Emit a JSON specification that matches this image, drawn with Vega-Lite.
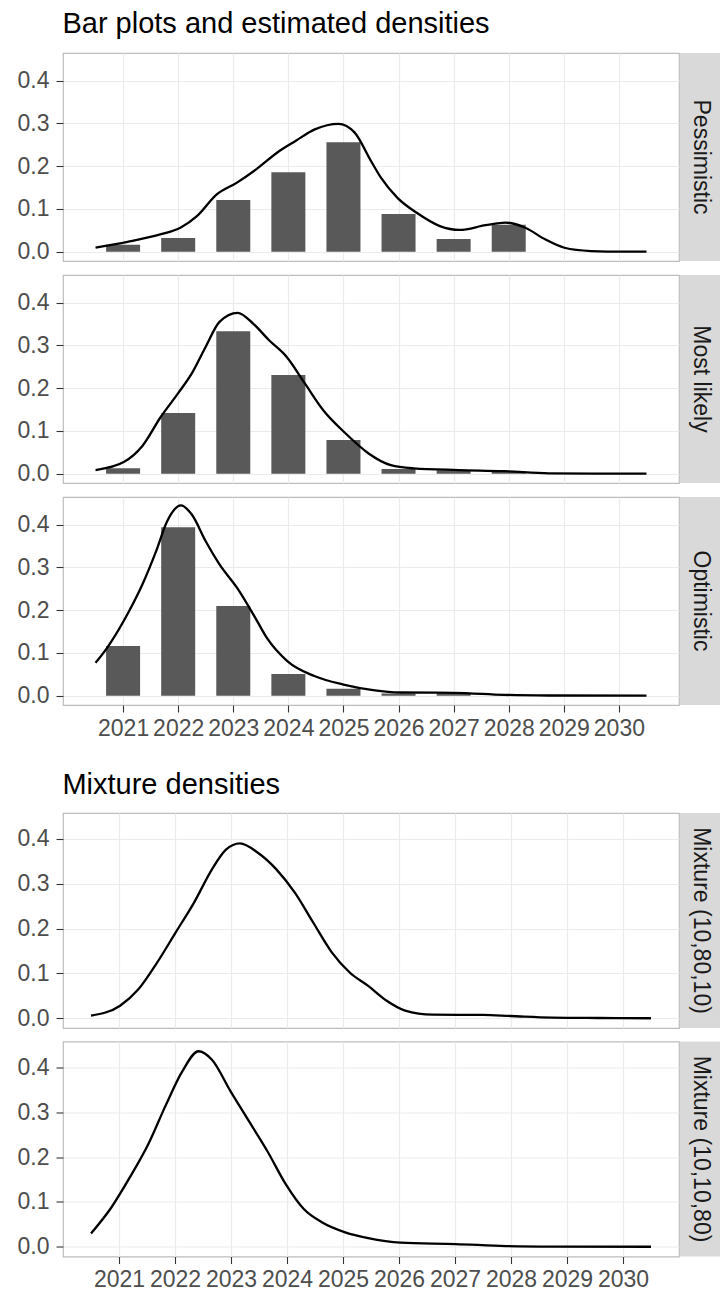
{
  "$schema": "https://vega.github.io/schema/vega-lite/v6.json",
  "background": "white",
  "padding": {"left": 16, "top": 10, "right": 0, "bottom": 2},
  "config": {
    "font": "Liberation Sans",
    "view": {"stroke": "#BDBDBD", "strokeWidth": 1.2, "fill": "white"},
    "axis": {"domain": false, "labelFont": "Liberation Sans", "labelFontSize": 23, "labelColor": "#4D4D4D", "tickColor": "#333333", "tickWidth": 1.1, "gridColor": "#EBEBEB", "labelOverlap": false, "labelFlush": false, "minExtent": 0},
    "title": {"font": "Liberation Sans", "fontSize": 29, "fontWeight": "normal", "color": "#000000", "anchor": "start", "dx": 46, "offset": 13}
  },
  "datasets": {
    "bars": [
      {"scenario": "Pessimistic", "year": 2021, "p": 0.016},
      {"scenario": "Pessimistic", "year": 2022, "p": 0.032},
      {"scenario": "Pessimistic", "year": 2023, "p": 0.121},
      {"scenario": "Pessimistic", "year": 2024, "p": 0.186},
      {"scenario": "Pessimistic", "year": 2025, "p": 0.256},
      {"scenario": "Pessimistic", "year": 2026, "p": 0.088},
      {"scenario": "Pessimistic", "year": 2027, "p": 0.030},
      {"scenario": "Pessimistic", "year": 2028, "p": 0.063},
      {"scenario": "Most likely", "year": 2021, "p": 0.013},
      {"scenario": "Most likely", "year": 2022, "p": 0.142},
      {"scenario": "Most likely", "year": 2023, "p": 0.333},
      {"scenario": "Most likely", "year": 2024, "p": 0.231},
      {"scenario": "Most likely", "year": 2025, "p": 0.079},
      {"scenario": "Most likely", "year": 2026, "p": 0.011},
      {"scenario": "Most likely", "year": 2027, "p": 0.008},
      {"scenario": "Most likely", "year": 2028, "p": 0.005},
      {"scenario": "Optimistic", "year": 2021, "p": 0.116},
      {"scenario": "Optimistic", "year": 2022, "p": 0.394},
      {"scenario": "Optimistic", "year": 2023, "p": 0.210},
      {"scenario": "Optimistic", "year": 2024, "p": 0.051},
      {"scenario": "Optimistic", "year": 2025, "p": 0.016},
      {"scenario": "Optimistic", "year": 2026, "p": 0.005},
      {"scenario": "Optimistic", "year": 2027, "p": 0.006}
    ],
    "dens": [
      {"scenario": "Pessimistic", "year": 2020.5, "d": 0.0093},
      {"scenario": "Pessimistic", "year": 2021.08, "d": 0.023},
      {"scenario": "Pessimistic", "year": 2021.69, "d": 0.041},
      {"scenario": "Pessimistic", "year": 2022.04, "d": 0.056},
      {"scenario": "Pessimistic", "year": 2022.34, "d": 0.083},
      {"scenario": "Pessimistic", "year": 2022.7, "d": 0.134},
      {"scenario": "Pessimistic", "year": 2023.06, "d": 0.161},
      {"scenario": "Pessimistic", "year": 2023.42, "d": 0.193},
      {"scenario": "Pessimistic", "year": 2023.83, "d": 0.235},
      {"scenario": "Pessimistic", "year": 2024.13, "d": 0.259},
      {"scenario": "Pessimistic", "year": 2024.48, "d": 0.286},
      {"scenario": "Pessimistic", "year": 2024.91, "d": 0.299},
      {"scenario": "Pessimistic", "year": 2025.2, "d": 0.279},
      {"scenario": "Pessimistic", "year": 2025.5, "d": 0.212},
      {"scenario": "Pessimistic", "year": 2025.68, "d": 0.173},
      {"scenario": "Pessimistic", "year": 2025.98, "d": 0.126},
      {"scenario": "Pessimistic", "year": 2026.33, "d": 0.091},
      {"scenario": "Pessimistic", "year": 2026.75, "d": 0.060},
      {"scenario": "Pessimistic", "year": 2027.11, "d": 0.051},
      {"scenario": "Pessimistic", "year": 2027.58, "d": 0.062},
      {"scenario": "Pessimistic", "year": 2027.94, "d": 0.068},
      {"scenario": "Pessimistic", "year": 2028.3, "d": 0.056},
      {"scenario": "Pessimistic", "year": 2028.66, "d": 0.029},
      {"scenario": "Pessimistic", "year": 2029.01, "d": 0.0093},
      {"scenario": "Pessimistic", "year": 2029.49, "d": 0.0016},
      {"scenario": "Pessimistic", "year": 2030.08, "d": 0.0},
      {"scenario": "Pessimistic", "year": 2030.5, "d": 0.0},
      {"scenario": "Most likely", "year": 2020.5, "d": 0.0086},
      {"scenario": "Most likely", "year": 2021.02, "d": 0.028},
      {"scenario": "Most likely", "year": 2021.35, "d": 0.065},
      {"scenario": "Most likely", "year": 2021.68, "d": 0.132},
      {"scenario": "Most likely", "year": 2022.01, "d": 0.19},
      {"scenario": "Most likely", "year": 2022.25, "d": 0.235},
      {"scenario": "Most likely", "year": 2022.5, "d": 0.297},
      {"scenario": "Most likely", "year": 2022.75, "d": 0.355},
      {"scenario": "Most likely", "year": 2023.08, "d": 0.376},
      {"scenario": "Most likely", "year": 2023.36, "d": 0.351},
      {"scenario": "Most likely", "year": 2023.65, "d": 0.312},
      {"scenario": "Most likely", "year": 2023.97, "d": 0.273},
      {"scenario": "Most likely", "year": 2024.3, "d": 0.211},
      {"scenario": "Most likely", "year": 2024.63, "d": 0.149},
      {"scenario": "Most likely", "year": 2025.04, "d": 0.094},
      {"scenario": "Most likely", "year": 2025.45, "d": 0.048},
      {"scenario": "Most likely", "year": 2025.86, "d": 0.020},
      {"scenario": "Most likely", "year": 2026.27, "d": 0.0126},
      {"scenario": "Most likely", "year": 2027.09, "d": 0.0086},
      {"scenario": "Most likely", "year": 2027.91, "d": 0.006},
      {"scenario": "Most likely", "year": 2028.73, "d": 0.001},
      {"scenario": "Most likely", "year": 2029.55, "d": 0.0},
      {"scenario": "Most likely", "year": 2030.5, "d": 0.0},
      {"scenario": "Optimistic", "year": 2020.5, "d": 0.077},
      {"scenario": "Optimistic", "year": 2020.71, "d": 0.112},
      {"scenario": "Optimistic", "year": 2021.11, "d": 0.198},
      {"scenario": "Optimistic", "year": 2021.35, "d": 0.26},
      {"scenario": "Optimistic", "year": 2021.6, "d": 0.338},
      {"scenario": "Optimistic", "year": 2021.8, "d": 0.408},
      {"scenario": "Optimistic", "year": 2022.05, "d": 0.445},
      {"scenario": "Optimistic", "year": 2022.25, "d": 0.423},
      {"scenario": "Optimistic", "year": 2022.5, "d": 0.361},
      {"scenario": "Optimistic", "year": 2022.75, "d": 0.307},
      {"scenario": "Optimistic", "year": 2023.07, "d": 0.252},
      {"scenario": "Optimistic", "year": 2023.4, "d": 0.182},
      {"scenario": "Optimistic", "year": 2023.61, "d": 0.135},
      {"scenario": "Optimistic", "year": 2023.98, "d": 0.081},
      {"scenario": "Optimistic", "year": 2024.47, "d": 0.046},
      {"scenario": "Optimistic", "year": 2025.0, "d": 0.026},
      {"scenario": "Optimistic", "year": 2025.54, "d": 0.013},
      {"scenario": "Optimistic", "year": 2026.03, "d": 0.0075},
      {"scenario": "Optimistic", "year": 2027.01, "d": 0.0068},
      {"scenario": "Optimistic", "year": 2027.91, "d": 0.002},
      {"scenario": "Optimistic", "year": 2028.73, "d": 0.0005},
      {"scenario": "Optimistic", "year": 2030.5, "d": 0.0},
      {"scenario": "Mixture (10,80,10)", "year": 2020.5, "d": 0.0058},
      {"scenario": "Mixture (10,80,10)", "year": 2021.02, "d": 0.028},
      {"scenario": "Mixture (10,80,10)", "year": 2021.35, "d": 0.065},
      {"scenario": "Mixture (10,80,10)", "year": 2021.68, "d": 0.124},
      {"scenario": "Mixture (10,80,10)", "year": 2022.01, "d": 0.191},
      {"scenario": "Mixture (10,80,10)", "year": 2022.34, "d": 0.258},
      {"scenario": "Mixture (10,80,10)", "year": 2022.66, "d": 0.332},
      {"scenario": "Mixture (10,80,10)", "year": 2022.91, "d": 0.376},
      {"scenario": "Mixture (10,80,10)", "year": 2023.16, "d": 0.39},
      {"scenario": "Mixture (10,80,10)", "year": 2023.48, "d": 0.369},
      {"scenario": "Mixture (10,80,10)", "year": 2023.81, "d": 0.332},
      {"scenario": "Mixture (10,80,10)", "year": 2024.14, "d": 0.28},
      {"scenario": "Mixture (10,80,10)", "year": 2024.47, "d": 0.213},
      {"scenario": "Mixture (10,80,10)", "year": 2024.8, "d": 0.147},
      {"scenario": "Mixture (10,80,10)", "year": 2025.12, "d": 0.102},
      {"scenario": "Mixture (10,80,10)", "year": 2025.45, "d": 0.072},
      {"scenario": "Mixture (10,80,10)", "year": 2025.78, "d": 0.039},
      {"scenario": "Mixture (10,80,10)", "year": 2026.11, "d": 0.017},
      {"scenario": "Mixture (10,80,10)", "year": 2026.6, "d": 0.008},
      {"scenario": "Mixture (10,80,10)", "year": 2027.5, "d": 0.0073},
      {"scenario": "Mixture (10,80,10)", "year": 2027.99, "d": 0.005},
      {"scenario": "Mixture (10,80,10)", "year": 2028.73, "d": 0.0015},
      {"scenario": "Mixture (10,80,10)", "year": 2029.55, "d": 0.0005},
      {"scenario": "Mixture (10,80,10)", "year": 2030.5, "d": 0.0},
      {"scenario": "Mixture (10,10,80)", "year": 2020.5, "d": 0.0296},
      {"scenario": "Mixture (10,10,80)", "year": 2020.86, "d": 0.087},
      {"scenario": "Mixture (10,10,80)", "year": 2021.19, "d": 0.154},
      {"scenario": "Mixture (10,10,80)", "year": 2021.52, "d": 0.228},
      {"scenario": "Mixture (10,10,80)", "year": 2021.84, "d": 0.317},
      {"scenario": "Mixture (10,10,80)", "year": 2022.13, "d": 0.391},
      {"scenario": "Mixture (10,10,80)", "year": 2022.42, "d": 0.436},
      {"scenario": "Mixture (10,10,80)", "year": 2022.66, "d": 0.417},
      {"scenario": "Mixture (10,10,80)", "year": 2022.99, "d": 0.347},
      {"scenario": "Mixture (10,10,80)", "year": 2023.32, "d": 0.28},
      {"scenario": "Mixture (10,10,80)", "year": 2023.65, "d": 0.213},
      {"scenario": "Mixture (10,10,80)", "year": 2023.98, "d": 0.139},
      {"scenario": "Mixture (10,10,80)", "year": 2024.3, "d": 0.084},
      {"scenario": "Mixture (10,10,80)", "year": 2024.63, "d": 0.054},
      {"scenario": "Mixture (10,10,80)", "year": 2025.04, "d": 0.032},
      {"scenario": "Mixture (10,10,80)", "year": 2025.45, "d": 0.019},
      {"scenario": "Mixture (10,10,80)", "year": 2026.03, "d": 0.009},
      {"scenario": "Mixture (10,10,80)", "year": 2027.01, "d": 0.006},
      {"scenario": "Mixture (10,10,80)", "year": 2027.91, "d": 0.0015},
      {"scenario": "Mixture (10,10,80)", "year": 2028.73, "d": 0.0003},
      {"scenario": "Mixture (10,10,80)", "year": 2030.5, "d": 0.0}
    ]
  },
  "spacing": 30,
  "vconcat": [
    {
      "spacing": 9,
      "vconcat": [
        {
          "title": {"text": "Bar plots and estimated densities"},
          "spacing": 0,
          "hconcat": [
            {
              "width": 616, "height": 208,
              "resolve": {"axis": {"x": "independent"}},
              "layer": [
                {
                  "data": {"name": "bars"},
                  "transform": [{"filter": "datum.scenario === 'Pessimistic'"}],
                  "mark": {"type": "bar", "width": 34, "color": "#595959"},
                  "encoding": {
                    "x": {"field": "year", "type": "quantitative", "scale": {"domain": [2020, 2031], "nice": false, "zero": false},
                      "axis": {"title": null, "values": [2021,2022,2023,2024,2025,2026,2027,2028,2029,2030], "labels": false, "ticks": false, "gridWidth": 1.2}},
                    "y": {"field": "p", "type": "quantitative", "scale": {"domain": [-0.0217, 0.4646], "nice": false, "zero": false},
                      "axis": {"title": null, "values": [0,0.05,0.1,0.15,0.2,0.25,0.3,0.35,0.4,0.45], "format": ".1f", "labelPadding": 7, "tickSize": 7,
                        "labelExpr": "abs(datum.value*10 - round(datum.value*10)) < 0.001 ? datum.label : ''",
                        "tickOpacity": {"condition": {"test": "abs(datum.value*10 - round(datum.value*10)) < 0.001", "value": 1}, "value": 0},
                        "gridWidth": {"condition": {"test": "abs(datum.value*10 - round(datum.value*10)) < 0.001", "value": 1.2}, "value": 0.6}}}
                  }
                },
                {
                  "data": {"name": "dens"},
                  "transform": [{"filter": "datum.scenario === 'Pessimistic'"}],
                  "mark": {"type": "line", "color": "#000000", "strokeWidth": 2.3, "interpolate": "monotone"},
                  "encoding": {
                    "x": {"field": "year", "type": "quantitative",
                      "axis": {"title": null, "orient": "top", "values": [2020.5,2021.5,2022.5,2023.5,2024.5,2025.5,2026.5,2027.5,2028.5,2029.5,2030.5], "labels": false, "ticks": false, "gridWidth": 0.6}},
                    "y": {"field": "d", "type": "quantitative"}
                  }
                }
              ]
            },
            {
              "width": 41, "height": 208,
              "view": {"fill": "#D9D9D9", "stroke": null},
              "data": {"values": [{"label": "Pessimistic"}]},
              "mark": {"type": "text", "angle": 90, "fontSize": 23, "color": "#1A1A1A", "font": "Liberation Sans", "align": "center", "baseline": "middle"},
              "encoding": {"text": {"field": "label", "type": "nominal"}}
            }
          ]
        },
        {
          "spacing": 0,
          "hconcat": [
            {
              "width": 616, "height": 208,
              "resolve": {"axis": {"x": "independent"}},
              "layer": [
                {
                  "data": {"name": "bars"},
                  "transform": [{"filter": "datum.scenario === 'Most likely'"}],
                  "mark": {"type": "bar", "width": 34, "color": "#595959"},
                  "encoding": {
                    "x": {"field": "year", "type": "quantitative", "scale": {"domain": [2020, 2031], "nice": false, "zero": false},
                      "axis": {"title": null, "values": [2021,2022,2023,2024,2025,2026,2027,2028,2029,2030], "labels": false, "ticks": false, "gridWidth": 1.2}},
                    "y": {"field": "p", "type": "quantitative", "scale": {"domain": [-0.0217, 0.4646], "nice": false, "zero": false},
                      "axis": {"title": null, "values": [0,0.05,0.1,0.15,0.2,0.25,0.3,0.35,0.4,0.45], "format": ".1f", "labelPadding": 7, "tickSize": 7,
                        "labelExpr": "abs(datum.value*10 - round(datum.value*10)) < 0.001 ? datum.label : ''",
                        "tickOpacity": {"condition": {"test": "abs(datum.value*10 - round(datum.value*10)) < 0.001", "value": 1}, "value": 0},
                        "gridWidth": {"condition": {"test": "abs(datum.value*10 - round(datum.value*10)) < 0.001", "value": 1.2}, "value": 0.6}}}
                  }
                },
                {
                  "data": {"name": "dens"},
                  "transform": [{"filter": "datum.scenario === 'Most likely'"}],
                  "mark": {"type": "line", "color": "#000000", "strokeWidth": 2.3, "interpolate": "monotone"},
                  "encoding": {
                    "x": {"field": "year", "type": "quantitative",
                      "axis": {"title": null, "orient": "top", "values": [2020.5,2021.5,2022.5,2023.5,2024.5,2025.5,2026.5,2027.5,2028.5,2029.5,2030.5], "labels": false, "ticks": false, "gridWidth": 0.6}},
                    "y": {"field": "d", "type": "quantitative"}
                  }
                }
              ]
            },
            {
              "width": 41, "height": 208,
              "view": {"fill": "#D9D9D9", "stroke": null},
              "data": {"values": [{"label": "Most likely"}]},
              "mark": {"type": "text", "angle": 90, "fontSize": 23, "color": "#1A1A1A", "font": "Liberation Sans", "align": "center", "baseline": "middle"},
              "encoding": {"text": {"field": "label", "type": "nominal"}}
            }
          ]
        },
        {
          "spacing": 0,
          "hconcat": [
            {
              "width": 616, "height": 208,
              "resolve": {"axis": {"x": "independent"}},
              "layer": [
                {
                  "data": {"name": "bars"},
                  "transform": [{"filter": "datum.scenario === 'Optimistic'"}],
                  "mark": {"type": "bar", "width": 34, "color": "#595959"},
                  "encoding": {
                    "x": {"field": "year", "type": "quantitative", "scale": {"domain": [2020, 2031], "nice": false, "zero": false},
                      "axis": {"title": null, "values": [2021,2022,2023,2024,2025,2026,2027,2028,2029,2030], "format": "d", "labelFontSize": 23, "labelPadding": 5, "tickSize": 7, "gridWidth": 1.2}},
                    "y": {"field": "p", "type": "quantitative", "scale": {"domain": [-0.0217, 0.4646], "nice": false, "zero": false},
                      "axis": {"title": null, "values": [0,0.05,0.1,0.15,0.2,0.25,0.3,0.35,0.4,0.45], "format": ".1f", "labelPadding": 7, "tickSize": 7,
                        "labelExpr": "abs(datum.value*10 - round(datum.value*10)) < 0.001 ? datum.label : ''",
                        "tickOpacity": {"condition": {"test": "abs(datum.value*10 - round(datum.value*10)) < 0.001", "value": 1}, "value": 0},
                        "gridWidth": {"condition": {"test": "abs(datum.value*10 - round(datum.value*10)) < 0.001", "value": 1.2}, "value": 0.6}}}
                  }
                },
                {
                  "data": {"name": "dens"},
                  "transform": [{"filter": "datum.scenario === 'Optimistic'"}],
                  "mark": {"type": "line", "color": "#000000", "strokeWidth": 2.3, "interpolate": "monotone"},
                  "encoding": {
                    "x": {"field": "year", "type": "quantitative",
                      "axis": {"title": null, "orient": "top", "values": [2020.5,2021.5,2022.5,2023.5,2024.5,2025.5,2026.5,2027.5,2028.5,2029.5,2030.5], "labels": false, "ticks": false, "gridWidth": 0.6}},
                    "y": {"field": "d", "type": "quantitative"}
                  }
                }
              ]
            },
            {
              "width": 41, "height": 208,
              "view": {"fill": "#D9D9D9", "stroke": null},
              "data": {"values": [{"label": "Optimistic"}]},
              "mark": {"type": "text", "angle": 90, "fontSize": 23, "color": "#1A1A1A", "font": "Liberation Sans", "align": "center", "baseline": "middle"},
              "encoding": {"text": {"field": "label", "type": "nominal"}}
            }
          ]
        }
      ]
    },
    {
      "spacing": 9.5,
      "vconcat": [
        {
          "title": {"text": "Mixture densities", "offset": 12},
          "spacing": 0,
          "hconcat": [
            {
              "width": 616, "height": 215,
              "resolve": {"axis": {"x": "independent"}},
              "layer": [
                {
                  "data": {"name": "dens"},
                  "transform": [{"filter": "datum.scenario === 'Mixture (10,80,10)'"}],
                  "mark": {"type": "line", "color": "#000000", "strokeWidth": 2.3, "interpolate": "monotone"},
                  "encoding": {
                    "x": {"field": "year", "type": "quantitative", "scale": {"domain": [2020, 2031], "nice": false, "zero": false},
                      "axis": {"title": null, "values": [2021,2022,2023,2024,2025,2026,2027,2028,2029,2030], "labels": false, "ticks": false, "gridWidth": 1.2}},
                    "y": {"field": "d", "type": "quantitative", "scale": {"domain": [-0.0218, 0.4578], "nice": false, "zero": false},
                      "axis": {"title": null, "values": [0,0.05,0.1,0.15,0.2,0.25,0.3,0.35,0.4,0.45], "format": ".1f", "labelPadding": 7, "tickSize": 7,
                        "labelExpr": "abs(datum.value*10 - round(datum.value*10)) < 0.001 ? datum.label : ''",
                        "tickOpacity": {"condition": {"test": "abs(datum.value*10 - round(datum.value*10)) < 0.001", "value": 1}, "value": 0},
                        "gridWidth": {"condition": {"test": "abs(datum.value*10 - round(datum.value*10)) < 0.001", "value": 1.2}, "value": 0.6}}}
                  }
                },
                {
                  "data": {"name": "dens"},
                  "transform": [{"filter": "datum.scenario === 'Mixture (10,80,10)'"}],
                  "mark": {"type": "line", "opacity": 0, "interpolate": "monotone"},
                  "encoding": {
                    "x": {"field": "year", "type": "quantitative",
                      "axis": {"title": null, "orient": "top", "values": [2020.5,2021.5,2022.5,2023.5,2024.5,2025.5,2026.5,2027.5,2028.5,2029.5,2030.5], "labels": false, "ticks": false, "gridWidth": 0.6}},
                    "y": {"field": "d", "type": "quantitative"}
                  }
                }
              ]
            },
            {
              "width": 41, "height": 215,
              "view": {"fill": "#D9D9D9", "stroke": null},
              "data": {"values": [{"label": "Mixture (10,80,10)"}]},
              "mark": {"type": "text", "angle": 90, "fontSize": 23, "color": "#1A1A1A", "font": "Liberation Sans", "align": "center", "baseline": "middle"},
              "encoding": {"text": {"field": "label", "type": "nominal"}}
            }
          ]
        },
        {
          "spacing": 0,
          "hconcat": [
            {
              "width": 616, "height": 215,
              "resolve": {"axis": {"x": "independent"}},
              "layer": [
                {
                  "data": {"name": "dens"},
                  "transform": [{"filter": "datum.scenario === 'Mixture (10,10,80)'"}],
                  "mark": {"type": "line", "color": "#000000", "strokeWidth": 2.3, "interpolate": "monotone"},
                  "encoding": {
                    "x": {"field": "year", "type": "quantitative", "scale": {"domain": [2020, 2031], "nice": false, "zero": false},
                      "axis": {"title": null, "values": [2021,2022,2023,2024,2025,2026,2027,2028,2029,2030], "format": "d", "labelFontSize": 23, "labelPadding": 5, "tickSize": 7, "gridWidth": 1.2}},
                    "y": {"field": "d", "type": "quantitative", "scale": {"domain": [-0.0218, 0.4578], "nice": false, "zero": false},
                      "axis": {"title": null, "values": [0,0.05,0.1,0.15,0.2,0.25,0.3,0.35,0.4,0.45], "format": ".1f", "labelPadding": 7, "tickSize": 7,
                        "labelExpr": "abs(datum.value*10 - round(datum.value*10)) < 0.001 ? datum.label : ''",
                        "tickOpacity": {"condition": {"test": "abs(datum.value*10 - round(datum.value*10)) < 0.001", "value": 1}, "value": 0},
                        "gridWidth": {"condition": {"test": "abs(datum.value*10 - round(datum.value*10)) < 0.001", "value": 1.2}, "value": 0.6}}}
                  }
                },
                {
                  "data": {"name": "dens"},
                  "transform": [{"filter": "datum.scenario === 'Mixture (10,10,80)'"}],
                  "mark": {"type": "line", "opacity": 0, "interpolate": "monotone"},
                  "encoding": {
                    "x": {"field": "year", "type": "quantitative",
                      "axis": {"title": null, "orient": "top", "values": [2020.5,2021.5,2022.5,2023.5,2024.5,2025.5,2026.5,2027.5,2028.5,2029.5,2030.5], "labels": false, "ticks": false, "gridWidth": 0.6}},
                    "y": {"field": "d", "type": "quantitative"}
                  }
                }
              ]
            },
            {
              "width": 41, "height": 215,
              "view": {"fill": "#D9D9D9", "stroke": null},
              "data": {"values": [{"label": "Mixture (10,10,80)"}]},
              "mark": {"type": "text", "angle": 90, "fontSize": 23, "color": "#1A1A1A", "font": "Liberation Sans", "align": "center", "baseline": "middle"},
              "encoding": {"text": {"field": "label", "type": "nominal"}}
            }
          ]
        }
      ]
    }
  ]
}
